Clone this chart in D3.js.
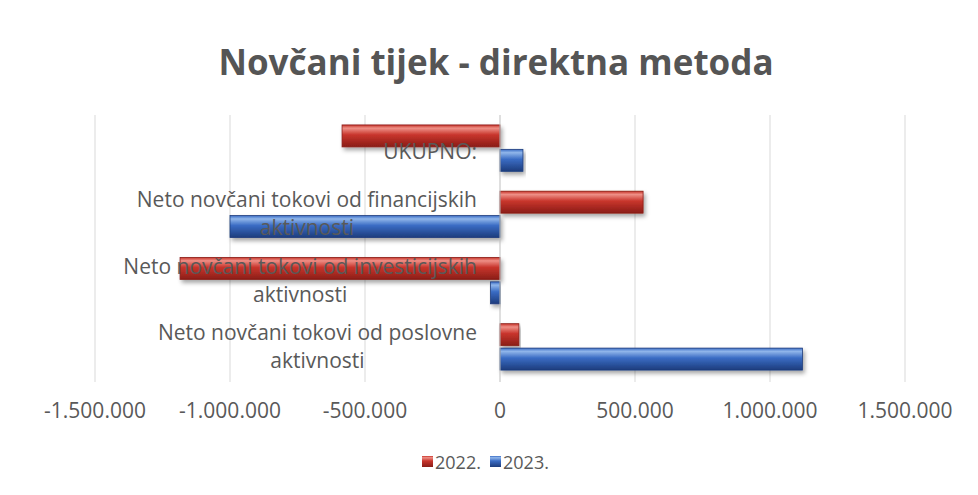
<!DOCTYPE html>
<html>
<head>
<meta charset="utf-8">
<script src="https://cdn.jsdelivr.net/npm/d3@7"></script>
<style>
  body { margin: 0; background: #fff; }
  svg { display: block; font-family: "Open Sans", "Noto Sans", sans-serif; }
</style>
</head>
<body>
<svg id="chart"></svg>
<script>
// categories, top to bottom as shown
const categories = [
  "UKUPNO:",
  "Neto novčani tokovi od financijskih aktivnosti",
  "Neto novčani tokovi od investicijskih aktivnosti",
  "Neto novčani tokovi od poslovne aktivnosti"
];
const series = ["2022.", "2023."];
const values2022 = [-585000, 530000, -1185000, 70000];
const values2023 = [85000, -1000000, -35000, 1120000];
const xTicks = [-1500000, -1000000, -500000, 0, 500000, 1000000, 1500000];

const width = 978, height = 495;
const colors = { "2022.": ["#ee8f86", "#c8352c", "#8a1d17"], "2023.": ["#90b6ea", "#3a6cc4", "#1d3c7c"] };

const svg = d3.select("#chart").attr("width", width).attr("height", height);

// bar gradients + shadow
const defs = svg.append("defs");
series.forEach((s, i) => {
  const g = defs.append("linearGradient").attr("id", "grad" + i)
    .attr("x1", 0).attr("y1", 0).attr("x2", 0).attr("y2", 1);
  g.append("stop").attr("offset", "0%").attr("stop-color", colors[s][1]);
  g.append("stop").attr("offset", "15%").attr("stop-color", colors[s][0]);
  g.append("stop").attr("offset", "45%").attr("stop-color", colors[s][1]);
  g.append("stop").attr("offset", "100%").attr("stop-color", colors[s][2]);
});
const f = defs.append("filter").attr("id", "shadow").attr("x", "-10%").attr("y", "-30%").attr("width", "120%").attr("height", "180%");
f.append("feDropShadow").attr("dx", 2).attr("dy", 3).attr("stdDeviation", 2).attr("flood-color", "#000").attr("flood-opacity", 0.35);

const data = categories.map((c, i) => ({ cat: c, vals: [values2022[i], values2023[i]] }));

const x = d3.scaleLinear().domain([-1500000, 1500000]).range([95, 905]);
const y = d3.scaleBand().domain(categories).range([115, 380]).paddingInner(0.3).paddingOuter(0.15);
const ySub = d3.scaleBand().domain(series).range([0, y.bandwidth()]).paddingInner(0.1);

// title
svg.append("text")
  .attr("x", 496).attr("y", 75)
  .attr("text-anchor", "middle")
  .attr("font-size", 35).attr("font-weight", "bold")
  .attr("fill", "#555")
  .text("Novčani tijek - direktna metoda");

// gridlines
svg.append("g").selectAll("line")
  .data(xTicks.filter(d => d !== 0))
  .join("line")
  .attr("x1", d => x(d)).attr("x2", d => x(d))
  .attr("y1", 115).attr("y2", 382)
  .attr("stroke", "#d9d9d9").attr("stroke-width", 1);

// tick labels
svg.append("g").selectAll("text")
  .data(xTicks)
  .join("text")
  .attr("x", d => x(d)).attr("y", 418)
  .attr("text-anchor", "middle")
  .attr("font-size", 21).attr("fill", "#595959")
  .text(d => d3.format(",")(d).replace(/,/g, ".").replace("−", "-"));

// bars
const groups = svg.append("g").selectAll("g")
  .data(data)
  .join("g")
  .attr("transform", d => `translate(0,${y(d.cat)})`);

groups.selectAll("rect")
  .data(d => d.vals.map((v, i) => ({ s: series[i], i, v })))
  .join("rect")
  .attr("x", d => x(Math.min(0, d.v)))
  .attr("y", d => ySub(d.s))
  .attr("width", d => Math.abs(x(d.v) - x(0)))
  .attr("height", ySub.bandwidth())
  .attr("fill", d => `url(#grad${d.i})`)
  .attr("stroke", d => colors[d.s][2]).attr("stroke-width", 0.8)
  .attr("filter", "url(#shadow)");

// vertical axis at 0
svg.append("line")
  .attr("x1", x(0)).attr("x2", x(0))
  .attr("y1", 115).attr("y2", 382)
  .attr("stroke", "#bfbfbf");

// category labels, wrapped before "aktivnosti", centred, right edge near axis
const labelRight = 477, lineH = 28;
categories.forEach(c => {
  const lines = c.includes(" aktivnosti") ? [c.replace(" aktivnosti", ""), "aktivnosti"] : [c];
  const cy = y(c) + y.bandwidth() / 2;
  const t = svg.append("text")
    .attr("text-anchor", "middle")
    .attr("font-size", 21).attr("fill", "#595959");
  lines.forEach((l, k) => {
    t.append("tspan")
      .attr("y", cy + (k - (lines.length - 1) / 2) * lineH + 7 + (lines.length === 1 ? 4 : 0))
      .text(l);
  });
  let w = 0;
  t.selectAll("tspan").each(function() { w = Math.max(w, this.getComputedTextLength()); });
  t.selectAll("tspan").attr("x", labelRight - w / 2);
});

// legend
const leg = svg.append("g").attr("transform", "translate(0,462)");
const legX = [422, 490];
series.forEach((s, i) => {
  leg.append("rect")
    .attr("x", legX[i]).attr("y", -6)
    .attr("width", 11).attr("height", 11)
    .attr("fill", `url(#grad${i})`);
  leg.append("text")
    .attr("x", legX[i] + 13).attr("y", 7)
    .attr("font-size", 18).attr("fill", "#595959")
    .text(s);
});
</script>
</body>
</html>
